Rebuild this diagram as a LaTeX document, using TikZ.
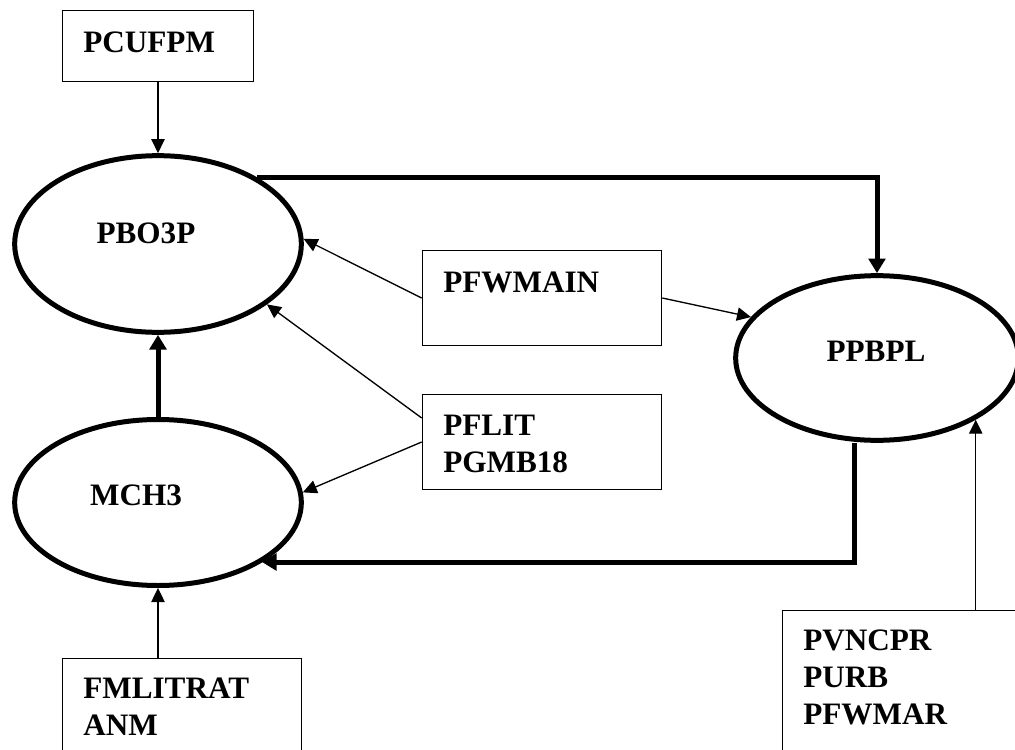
\documentclass[tikz,border=0pt]{standalone}
\usepackage{fontspec}
\setmainfont{Liberation Serif}
\usetikzlibrary{arrows.meta,calc,shapes.geometric}
\begin{document}
\begin{tikzpicture}[x=0.75pt,y=-0.75pt,
  every node/.style={font=\fontsize{23.4}{27.75}\selectfont\bfseries},
  box/.style={draw, line width=1.2pt, rectangle, inner sep=0pt},
  oval/.style={draw, ellipse, line width=3.75pt, inner sep=0pt},
  txt/.style={inner sep=0pt, anchor=base west, align=left},
  thinarrow/.style={line width=1pt, -{Triangle[length=10.5pt,width=10pt]}},
  thickarrow/.style={line width=3.75pt, -{Triangle[length=11pt,width=12.5pt]}},
]
\useasboundingbox (0,0) rectangle (1015,750);
\clip (0,0) rectangle (1015,750);

% ellipses
\node[oval, minimum width=215pt, minimum height=132.5pt,
      label={[xshift=-9pt,yshift=8.25pt]center:PBO3P}] (pbo3p) at (158,244) {};
\node[oval, minimum width=215pt, minimum height=124.5pt,
      label={[xshift=-16.5pt,yshift=5.6pt]center:MCH3}] (mch3) at (158,502.5) {};
\node[oval, minimum width=212pt, minimum height=123.5pt,
      label={[xshift=-0.75pt,yshift=5.25pt]center:PPBPL}] (ppbpl) at (877,358) {};

% boxes (text anchored at the baseline of its last line)
\node[box, minimum width=143.25pt, minimum height=53.25pt] (pcufpm) at (158,46) {};
\node[txt] (pcufpmt) at (83,52) {PCUFPM};

\node[box, minimum width=179.25pt, minimum height=71.25pt] (pfwmain) at (542,298) {};
\node[txt] (pfwmaint) at (443,292) {PFWMAIN};

\node[box, minimum width=179.25pt, minimum height=71.25pt] (pflit) at (542,442) {};
\node[txt] (pflitt) at (443,472) {PFLIT\\PGMB18};

\node[box, minimum width=179.25pt, minimum height=105pt] (fml) at (182,728.5) {};
\node[txt] (fmlt) at (83,735) {FMLITRAT\\ANM};

\node[box, minimum width=225pt, minimum height=150pt] (pvn) at (932.5,710.5) {};
\node[txt] (pvnt) at (803,724) {PVNCPR\\PURB\\PFWMAR};

% connectors
\draw[thinarrow] (pcufpm) -- (pbo3p);
\draw[thickarrow] (mch3) -- (pbo3p);
\draw[thinarrow] (mch3.south |- fml.north) -- (mch3.south);
\draw[thinarrow] (pfwmain.west) -- (pbo3p.2.4);
\draw[thinarrow] ($(pflit.west)+(0,-24)$) -- (pbo3p.-29);
\draw[thinarrow] (pflit.west) -- (mch3.4.7);
\draw[thinarrow] (pfwmain.east) -- (ppbpl.162.8);
\draw[thickarrow] (pbo3p.34.3) -- (pbo3p.34.3 -| ppbpl.north) -- (ppbpl.north);
\coordinate (c2) at (854,562);
\draw[thickarrow] (ppbpl.south -| c2) -- (c2) -- (c2 -| mch3.-30.2);
\draw[thinarrow] (ppbpl.-32.4 |- pvn.north) -- (ppbpl.-32.4);
\end{tikzpicture}
\end{document}
